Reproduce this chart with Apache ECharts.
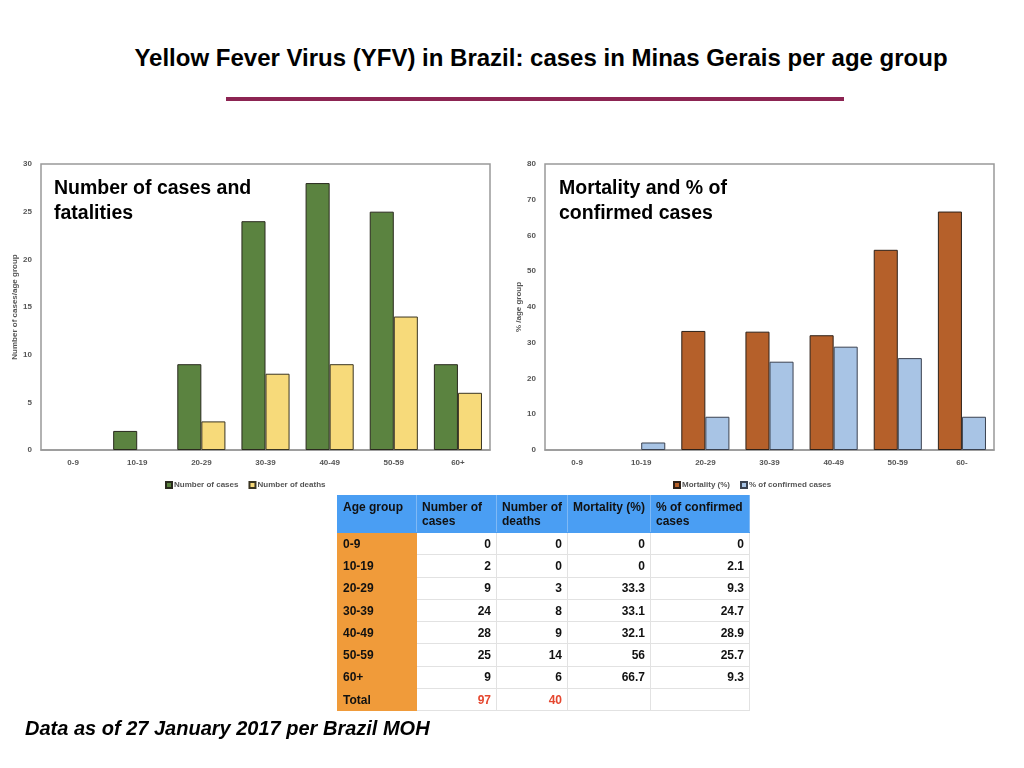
<!DOCTYPE html>
<html>
<head>
<meta charset="utf-8">
<script src="https://cdn.jsdelivr.net/npm/echarts@6/dist/echarts.min.js"></script>
<style>
  html, body { margin: 0; padding: 0; background: #fff; }
  #page { position: relative; width: 1024px; height: 768px; overflow: hidden; font-family: "Liberation Sans", Arial, sans-serif; }
  #chart { position: absolute; left: 0; top: 0; width: 1024px; height: 768px; }
  #title { position: absolute; left: 0; width: 1082px; top: 44px; text-align: center; font-family: "Liberation Sans Narrow", "Liberation Sans", Arial, sans-serif; font-weight: bold; font-size: 24px; line-height: 28px; color: #000; }
  #rule { position: absolute; left: 226px; top: 97px; width: 618px; height: 4px; background: #8c2452; }
  #foot { position: absolute; left: 25px; top: 715px; font-weight: bold; font-style: italic; font-size: 20px; line-height: 26px; color: #000; }
  #tbl { position: absolute; left: 337px; top: 495px; border-collapse: collapse; table-layout: fixed; font-size: 12px; font-weight: bold; color: #111; }
  #tbl td, #tbl th { border: 1px solid #e2e2e2; padding: 0 5px; white-space: nowrap; overflow: hidden; box-sizing: border-box; }
  #tbl th { background: #4a9ef3; text-align: left; vertical-align: top; font-weight: bold; height: 37px; line-height: 14px; padding-top: 4px; border-color: #4a9ef3; border-right: 1px solid #7fb9f5; }
  #tbl td { height: 22.3px; line-height: 14px; text-align: right; vertical-align: middle; }
  #tbl td.age { background: #f09b3a; text-align: left; border-color: #f09b3a; }
  #tbl td.red { color: #e5472f; }
</style>
</head>
<body>
<div id="page">
  <div id="title">Yellow Fever Virus (YFV) in Brazil: cases in Minas Gerais per age group</div>
  <div id="rule"></div>
  <div id="chart"></div>
  <table id="tbl"></table>
  <div id="foot">Data as of 27 January 2017 per Brazil MOH</div>
</div>
<script>
var ageGroups = ['0-9', '10-19', '20-29', '30-39', '40-49', '50-59', '60+'];
var rightAxisLabels = ['0-9', '10-19', '20-29', '30-39', '40-49', '50-59', '60-'];
var cases = [0, 2, 9, 24, 28, 25, 9];
var deaths = [0, 0, 3, 8, 9, 14, 6];
var mortality = [0, 0, 33.3, 33.1, 32.1, 56, 66.7];
var pctConfirmed = [0, 2.1, 9.3, 24.7, 28.9, 25.7, 9.3];
var totalCases = 97;
var totalDeaths = 40;
var tableHeaders = ['Age group', 'Number of<br>cases', 'Number of<br>deaths', 'Mortality (%)', '% of confirmed<br>cases'];
var colWidths = [79, 80, 69, 83, 99];

// table
var tbl = document.getElementById('tbl');
var html = '<colgroup>';
colWidths.forEach(function (w) { html += '<col style="width:' + w + 'px">'; });
html += '</colgroup><tr>';
tableHeaders.forEach(function (h) { html += '<th>' + h + '</th>'; });
html += '</tr>';
ageGroups.forEach(function (g, i) {
  html += '<tr><td class="age">' + g + '</td><td>' + cases[i] + '</td><td>' + deaths[i] +
    '</td><td>' + mortality[i] + '</td><td>' + pctConfirmed[i] + '</td></tr>';
});
html += '<tr><td class="age">Total</td><td class="red">' + totalCases + '</td><td class="red">' + totalDeaths + '</td><td></td><td></td></tr>';
tbl.innerHTML = html;

// zero-height bars are not drawn in the original
function bars(arr) { return arr.map(function (v) { return v === 0 ? '-' : v; }); }

// charts
var chart = echarts.init(document.getElementById('chart'));
var tickStyle = { fontSize: 8, fontWeight: 'bold', color: '#555' };
var axisGray = { lineStyle: { color: '#999', width: 1.5 } };

var option = {
  animation: false,
  title: [
    { text: 'Number of cases and\nfatalities', left: 49, top: 171,
      textStyle: { fontSize: 19.5, fontWeight: 'bold', color: '#000', lineHeight: 25 } },
    { text: 'Mortality and % of\nconfirmed cases', left: 554, top: 171,
      textStyle: { fontSize: 19.5, fontWeight: 'bold', color: '#000', lineHeight: 25 } }
  ],
  legend: [
    { data: ['Number of cases', 'Number of deaths'], left: 160, top: 476,
      icon: 'rect', itemWidth: 6, itemHeight: 6, itemGap: 10,
      textStyle: { fontSize: 8, fontWeight: 'bold', color: '#555', padding: [0, 0, 0, -3] } },
    { data: ['Mortality (%)', '% of confirmed cases'], left: 668, top: 476,
      icon: 'rect', itemWidth: 6, itemHeight: 6, itemGap: 10,
      textStyle: { fontSize: 8, fontWeight: 'bold', color: '#555', padding: [0, 0, 0, -3] } }
  ],
  grid: [
    { left: 41, top: 164, width: 449, height: 286, show: true, borderColor: '#999', borderWidth: 1.5 },
    { left: 545, top: 164, width: 449, height: 286, show: true, borderColor: '#999', borderWidth: 1.5 }
  ],
  xAxis: [
    { type: 'category', gridIndex: 0, data: ageGroups, axisTick: { show: false },
      axisLine: axisGray, axisLabel: Object.assign({ margin: 9 }, tickStyle) },
    { type: 'category', gridIndex: 1, data: rightAxisLabels, axisTick: { show: false },
      axisLine: axisGray, axisLabel: Object.assign({ margin: 9 }, tickStyle) }
  ],
  yAxis: [
    { type: 'value', gridIndex: 0, min: 0, max: 30, interval: 5, splitLine: { show: false },
      axisLine: { show: false }, axisTick: { show: false }, axisLabel: Object.assign({ margin: 9 }, tickStyle),
      name: 'Number of cases/age group', nameLocation: 'middle', nameGap: 22,
      nameTextStyle: { fontSize: 8, fontWeight: 'bold', color: '#555' } },
    { type: 'value', gridIndex: 1, min: 0, max: 80, interval: 10, splitLine: { show: false },
      axisLine: { show: false }, axisTick: { show: false }, axisLabel: Object.assign({ margin: 9 }, tickStyle),
      name: '% /age group', nameLocation: 'middle', nameGap: 22,
      nameTextStyle: { fontSize: 8, fontWeight: 'bold', color: '#555' } }
  ],
  series: [
    { name: 'Number of cases', type: 'bar', xAxisIndex: 0, yAxisIndex: 0, data: bars(cases),
      barGap: '0%', barCategoryGap: '25%',
      itemStyle: { color: '#5b8340', borderColor: '#2a2a1e', borderWidth: 1 } },
    { name: 'Number of deaths', type: 'bar', xAxisIndex: 0, yAxisIndex: 0, data: bars(deaths),
      barGap: '0%', barCategoryGap: '25%',
      itemStyle: { color: '#f7da7a', borderColor: '#3a3522', borderWidth: 1 } },
    { name: 'Mortality (%)', type: 'bar', xAxisIndex: 1, yAxisIndex: 1, data: bars(mortality),
      barGap: '0%', barCategoryGap: '25%',
      itemStyle: { color: '#b5602a', borderColor: '#2e2118', borderWidth: 1 } },
    { name: '% of confirmed cases', type: 'bar', xAxisIndex: 1, yAxisIndex: 1, data: bars(pctConfirmed),
      barGap: '0%', barCategoryGap: '25%',
      itemStyle: { color: '#a8c4e5', borderColor: '#3b4250', borderWidth: 1 } }
  ]
};
chart.setOption(option);
</script>
</body>
</html>
